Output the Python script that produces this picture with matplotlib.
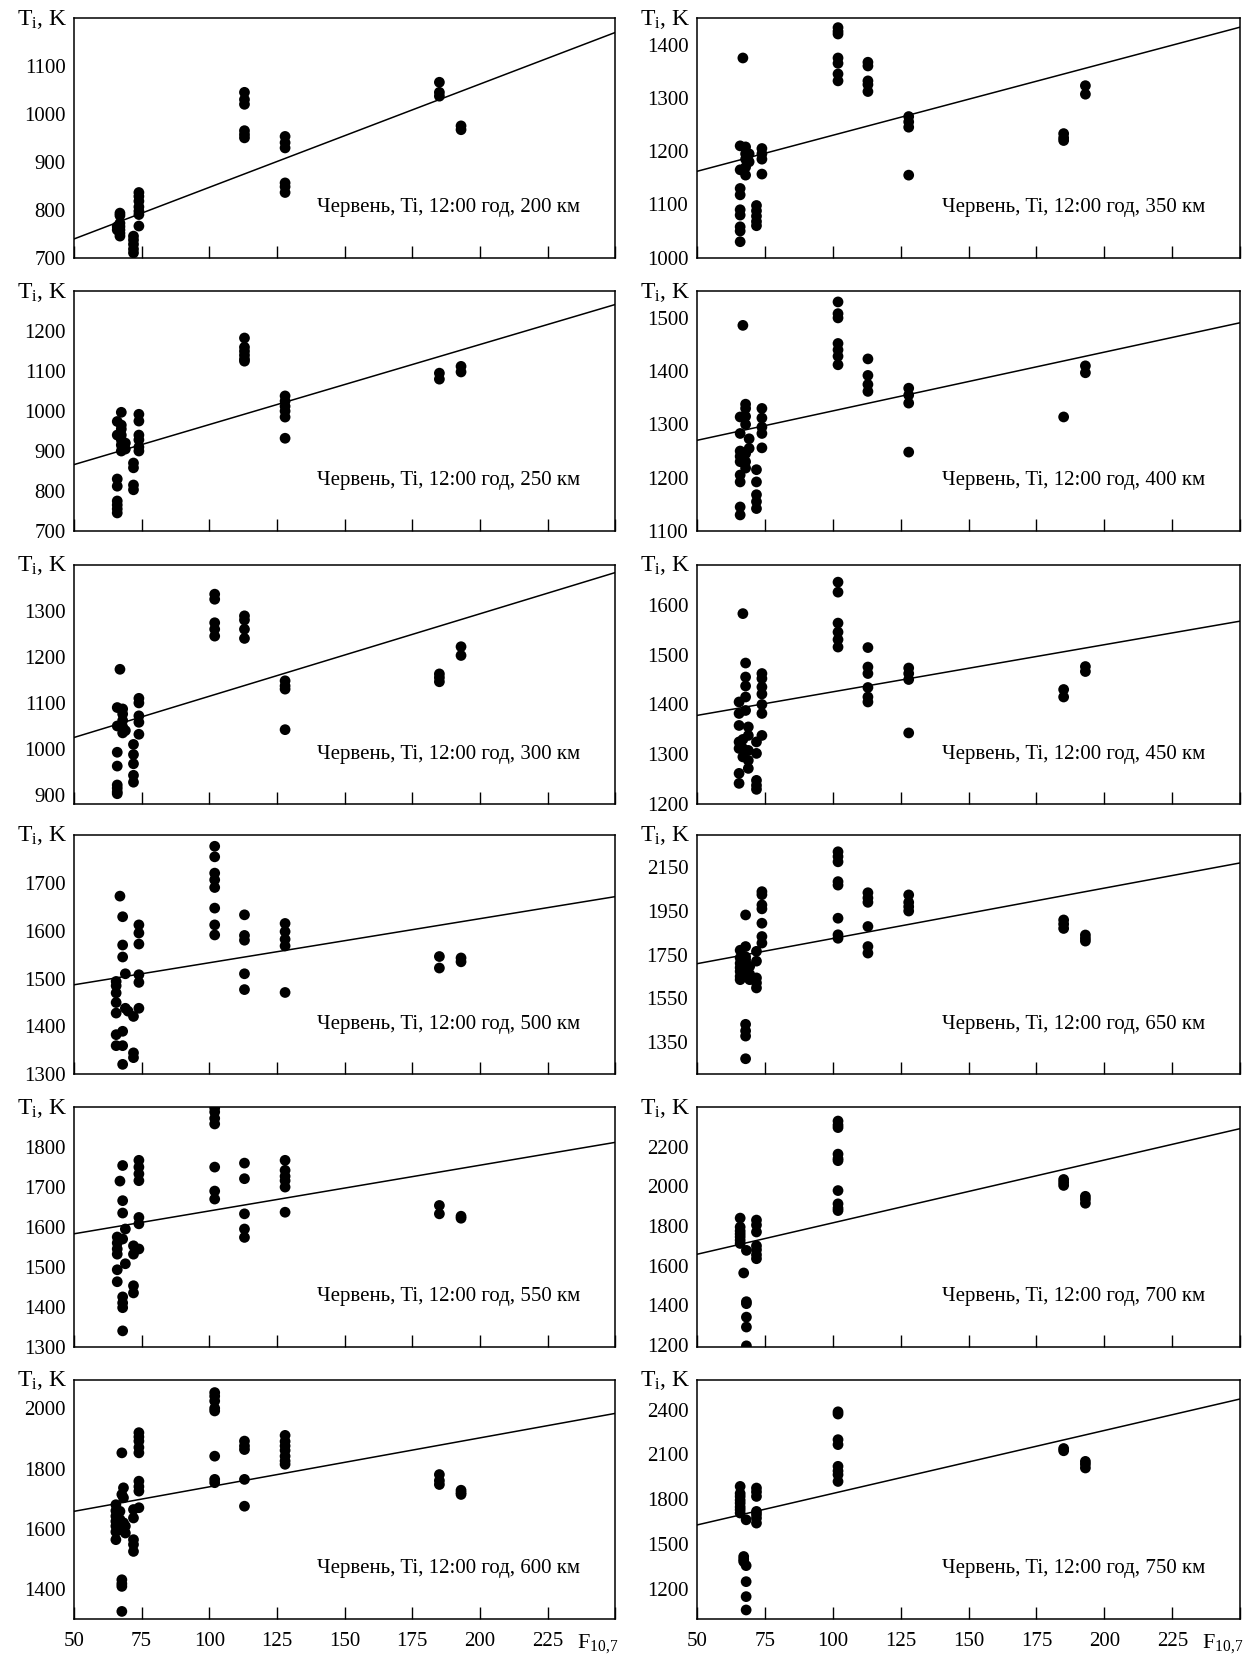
import matplotlib
matplotlib.use('Agg')
import matplotlib.pyplot as plt

# Ti (K) grouped by F10.7 value
ti_200 = {67: [793, 788, 772, 765, 758, 751, 745], 66: [765, 758],
          72: [745, 737, 728, 718, 710], 74: [836, 828, 818, 806, 797, 790, 766],
          113: [1045, 1030, 1020, 965, 957, 950], 128: [953, 940, 929, 856, 848, 836],
          185: [1066, 1045, 1037], 193: [975, 967]}
ti_250 = {66: [974, 940, 830, 812, 775, 765, 755, 745], 67.5: [997, 965, 955, 940, 928, 915, 900],
          69: [920, 905], 72: [870, 858, 815, 803], 74: [992, 975, 940, 928, 910, 900],
          113: [1183, 1160, 1150, 1140, 1130, 1125], 128: [1038, 1025, 1012, 1000, 985, 932],
          185: [1095, 1080], 193: [1112, 1098]}
ti_300 = {66: [1090, 1050, 993, 963, 922, 915, 907, 903], 67: [1173],
          68: [1087, 1076, 1062, 1048, 1035], 69: [1040], 72: [1010, 988, 968, 943, 928],
          74: [1110, 1100, 1072, 1058, 1032], 102: [1336, 1325, 1274, 1260, 1245],
          113: [1289, 1280, 1260, 1240], 128: [1148, 1137, 1130, 1042],
          185: [1163, 1155, 1146], 193: [1222, 1203]}
ti_350 = {66: [1210, 1165, 1130, 1118, 1090, 1080, 1058, 1050, 1030], 67: [1375],
          68: [1208, 1195, 1185, 1170, 1155], 69.3: [1195, 1180], 72: [1098, 1088, 1078, 1068, 1060],
          74: [1205, 1195, 1185, 1157], 102: [1432, 1425, 1420, 1375, 1365, 1345, 1332],
          113: [1367, 1360, 1332, 1325, 1312], 128: [1265, 1255, 1245, 1155],
          185: [1233, 1225, 1220], 193: [1323, 1307]}
ti_400 = {66: [1314, 1283, 1250, 1240, 1230, 1205, 1192, 1145, 1130], 67: [1486],
          68: [1338, 1330, 1315, 1300, 1245, 1230, 1218], 69.3: [1273, 1255],
          72: [1215, 1192, 1168, 1155, 1142], 74: [1330, 1312, 1295, 1283, 1256],
          102: [1530, 1508, 1500, 1452, 1440, 1428, 1412], 113: [1423, 1392, 1375, 1362],
          128: [1368, 1355, 1340, 1248], 185: [1314], 193: [1410, 1397]}
ti_450 = {65.6: [1405, 1382, 1358, 1325, 1312, 1262, 1242], 67: [1582, 1330, 1312, 1295],
          68: [1483, 1455, 1437, 1415, 1388], 69: [1355, 1338, 1308, 1288, 1272],
          72: [1325, 1302, 1248, 1238, 1230], 74: [1462, 1452, 1435, 1421, 1400, 1382, 1338],
          102: [1645, 1625, 1563, 1545, 1530, 1515], 113: [1514, 1475, 1462, 1434, 1415, 1405],
          128: [1473, 1462, 1450, 1343], 185: [1430, 1415], 193: [1476, 1466]}
ti_500 = {65.6: [1494, 1485, 1470, 1450, 1428, 1383, 1360], 67: [1672],
          68: [1629, 1570, 1545, 1390, 1360, 1321], 69: [1510, 1438], 70: [1432],
          72: [1421, 1345, 1335], 74: [1612, 1595, 1572, 1508, 1492, 1438],
          102: [1776, 1754, 1720, 1706, 1690, 1647, 1612, 1591], 113: [1633, 1590, 1580, 1510, 1477],
          128: [1615, 1598, 1582, 1568, 1471], 185: [1546, 1522], 193: [1543, 1535]}
ti_550 = {66: [1575, 1560, 1545, 1532, 1493, 1463], 67: [1715],
          68: [1754, 1666, 1635, 1570, 1425, 1410, 1398, 1340], 69: [1595, 1508],
          72: [1553, 1532, 1453, 1435], 74: [1767, 1750, 1733, 1716, 1624, 1608, 1545],
          102: [1898, 1888, 1872, 1858, 1750, 1690, 1670], 113: [1760, 1721, 1633, 1595, 1574],
          128: [1767, 1742, 1727, 1716, 1700, 1637], 185: [1654, 1633], 193: [1627, 1622]}
ti_600 = {65.5: [1680, 1660, 1642, 1625, 1609, 1590, 1564], 67: [1658, 1631, 1597],
          67.7: [1852, 1714, 1431, 1418, 1409, 1326], 68.3: [1736, 1703, 1620], 69: [1609, 1586],
          72: [1664, 1636, 1564, 1548, 1525], 74: [1919, 1905, 1891, 1870, 1852, 1758, 1740, 1725, 1670],
          102: [2052, 2040, 2024, 2000, 1991, 1841, 1764, 1753], 113: [1891, 1875, 1863, 1764, 1675],
          128: [1910, 1890, 1875, 1860, 1841, 1825, 1814], 185: [1780, 1760, 1747], 193: [1728, 1720, 1714]}
ti_650 = {66: [1770, 1735, 1710, 1690, 1673, 1650, 1635],
          68: [1932, 1787, 1740, 1726, 1700, 1673, 1430, 1400, 1376, 1272], 69.5: [1696, 1660, 1635],
          72: [1765, 1720, 1643, 1620, 1597], 74: [2039, 2025, 1978, 1960, 1894, 1833, 1803],
          102: [2222, 2200, 2176, 2085, 2069, 1917, 1841, 1825], 113: [2034, 2010, 1990, 1879, 1787, 1757],
          128: [2024, 1990, 1970, 1950], 185: [1909, 1890, 1870], 193: [1840, 1825, 1812]}
ti_700 = {66: [1840, 1795, 1775, 1760, 1745, 1728, 1712], 67.3: [1563],
          68.3: [1677, 1418, 1408, 1340, 1290, 1195], 72: [1830, 1805, 1770, 1700, 1680, 1655, 1635],
          102: [2330, 2310, 2297, 2163, 2140, 2130, 1979, 1912, 1890, 1878],
          185: [2035, 2020, 2005], 193: [1950, 1935, 1915]}
ti_750 = {66: [1887, 1840, 1820, 1795, 1775, 1750, 1731, 1709], 67.3: [1419, 1400, 1385],
          68.2: [1664, 1358, 1251, 1151, 1062], 72: [1876, 1850, 1820, 1720, 1700, 1675, 1642],
          102: [2385, 2370, 2199, 2166, 2021, 1990, 1965, 1920], 185: [2140, 2125], 193: [2054, 2035, 2010]}

# regression line: Ti at F10.7 = 50 and 250
fit_ends = {200: (739, 1170), 250: (866, 1267), 300: (1025, 1383), 350: (1162, 1433),
            400: (1270, 1491), 450: (1378, 1567), 500: (1487, 1671), 550: (1583, 1812),
            600: (1658, 1983), 650: (1708, 2171), 700: (1657, 2292), 750: (1629, 2471)}

# y axis: (ymin, ymax, first tick, last tick, step)
y_axes = {200: (700, 1200, 700, 1100, 100), 250: (700, 1300, 700, 1200, 100),
          300: (880, 1400, 900, 1300, 100), 350: (1000, 1450, 1000, 1400, 100),
          400: (1100, 1550, 1100, 1500, 100), 450: (1200, 1680, 1200, 1600, 100),
          500: (1300, 1800, 1300, 1700, 100), 550: (1300, 1900, 1300, 1800, 100),
          600: (1300, 2095, 1400, 2000, 200), 650: (1200, 2300, 1350, 2150, 200),
          700: (1190, 2400, 1200, 2200, 200), 750: (1000, 2600, 1200, 2400, 300)}

data = {200: ti_200, 250: ti_250, 300: ti_300, 350: ti_350, 400: ti_400, 450: ti_450,
        500: ti_500, 550: ti_550, 600: ti_600, 650: ti_650, 700: ti_700, 750: ti_750}

left_col = [200, 250, 300, 500, 550, 600]
right_col = [350, 400, 450, 650, 700, 750]

x_ticks = [50, 75, 100, 125, 150, 175, 200, 225, 250]
x_labels = ['50', '75', '100', '125', '150', '175', '200', '225', '']

plt.rcParams['font.family'] = 'serif'
plt.rcParams['font.serif'] = ['Liberation Serif', 'DejaVu Serif']
plt.rcParams['mathtext.fontset'] = 'custom'
plt.rcParams['mathtext.rm'] = 'Liberation Serif'
plt.rcParams['mathtext.it'] = 'Liberation Serif'

FS = 15

fig = plt.figure(figsize=(12.53, 16.55), dpi=100)

row_bottoms = [0.8443, 0.6792, 0.5140, 0.3508, 0.1862, 0.0216]
row_h = 0.1448


def draw_panel(ax, alt, bottom_row):
    pts = data[alt]
    xs, ys = [], []
    for f, vals in pts.items():
        xs += [f] * len(vals)
        ys += vals
    ax.scatter(xs, ys, s=60, color='black', edgecolors='none', zorder=3)

    t0, t1 = fit_ends[alt]
    ax.plot([50, 250], [t0, t1], color='black', lw=1.1, zorder=2)

    ymin, ymax, tfirst, tlast, step = y_axes[alt]
    ax.set_xlim(50, 250)
    ax.set_ylim(ymin, ymax)
    ax.set_yticks(list(range(tfirst, tlast + 1, step)))
    ax.set_xticks(x_ticks)
    if bottom_row:
        ax.set_xticklabels(x_labels)
        ax.annotate(r'F$_{10{,}7}$', xy=(1.0, 0.0), xycoords='axes fraction',
                    xytext=(2, -9), textcoords='offset points',
                    ha='right', va='top', fontsize=FS + 1)
    else:
        ax.set_xticklabels([])
    ax.tick_params(axis='x', direction='in', length=9, width=1, labelsize=FS, pad=9)
    ax.tick_params(axis='y', length=0, labelsize=FS, pad=6)
    for sp in ax.spines.values():
        sp.set_linewidth(1.1)

    ax.text(-0.012, 0.995, r'T$_\mathrm{i}$, K', transform=ax.transAxes,
            ha='right', va='center', fontsize=FS + 2)
    ax.text(0.935, 0.21, f'Червень, Ti, 12:00 год, {alt} км', transform=ax.transAxes,
            ha='right', va='center', fontsize=FS)


for i, alt in enumerate(left_col):
    ax = fig.add_axes([0.0590, row_bottoms[i], 0.4321, row_h])
    draw_panel(ax, alt, i == len(left_col) - 1)

for i, alt in enumerate(right_col):
    ax = fig.add_axes([0.5560, row_bottoms[i], 0.4339, row_h])
    draw_panel(ax, alt, i == len(right_col) - 1)

fig.savefig('out.png', dpi=100)
